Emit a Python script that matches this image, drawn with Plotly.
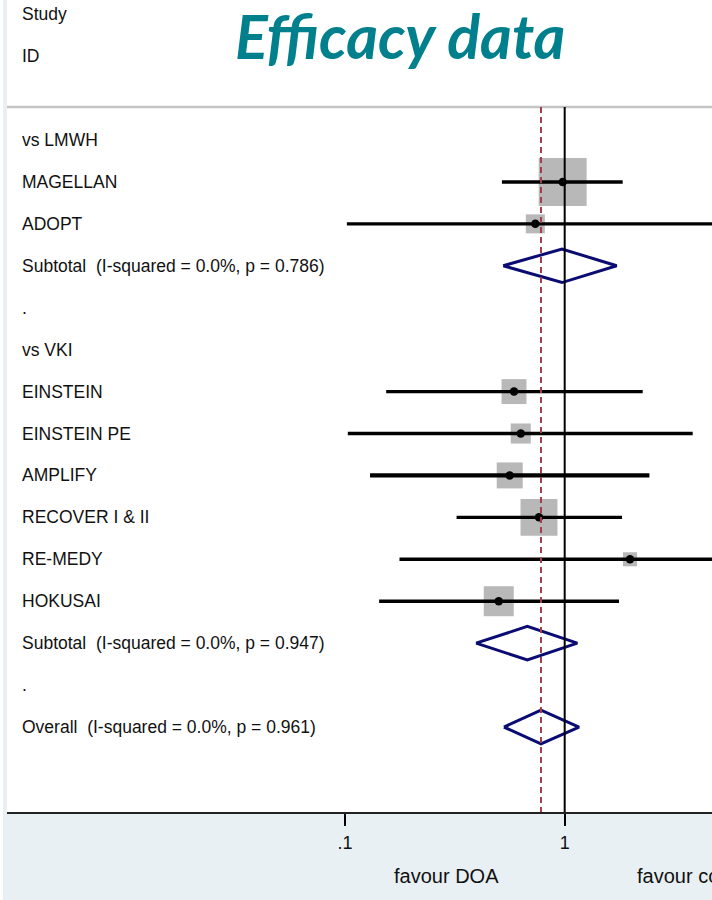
import plotly.graph_objects as go
import numpy as np

# ---------------- data ----------------
row_labels = [
    "vs LMWH", "MAGELLAN", "ADOPT",
    "Subtotal\u00a0 (I-squared = 0.0%, p = 0.786)", ".",
    "vs VKI", "EINSTEIN", "EINSTEIN PE", "AMPLIFY", "RECOVER I & II",
    "RE-MEDY", "HOKUSAI",
    "Subtotal\u00a0 (I-squared = 0.0%, p = 0.947)", ".",
    "Overall\u00a0 (I-squared = 0.0%, p = 0.961)",
]
header_labels = ["Study", "ID"]

study_names = ["MAGELLAN", "ADOPT", "EINSTEIN", "EINSTEIN PE", "AMPLIFY",
               "RECOVER I & II", "RE-MEDY", "HOKUSAI"]
study_rr = [0.979, 0.735, 0.588, 0.631, 0.562, 0.764, 1.983, 0.501]
study_lo = [0.518, 0.102, 0.154, 0.103, 0.130, 0.322, 0.177, 0.143]
study_hi = [1.836, 6.0, 2.265, 3.825, 2.430, 1.823, 9.0, 1.767]
study_weight = [33.7, 5.3, 9.1, 5.9, 9.9, 20.0, 2.9, 13.2]

pooled_names = ["Subtotal\u00a0 (I-squared = 0.0%, p = 0.786)",
                "Subtotal\u00a0 (I-squared = 0.0%, p = 0.947)",
                "Overall\u00a0 (I-squared = 0.0%, p = 0.961)"]
pooled_rr = [0.972, 0.676, 0.780]
pooled_lo = [0.525, 0.395, 0.529]
pooled_hi = [1.724, 1.141, 1.162]

tick_vals = [0.1, 1]
tick_text = [".1", "1"]
title_text = "Efficacy data"
left_caption = "favour DOA"
right_caption = "favour control"

# ---------------- styling ----------------
W, H = 712, 900
ML, MB = 7, 88
plot_w, plot_h = W - ML, H - MB
x0_log, x1_log = -2.5385, 0.6705
y_bottom, y_top = 16.027, -3.339
FONT = "Liberation Sans, Arial, sans-serif"
BG = "#e8f0f3"
NAVY = "#0b0b74"
line_widths = {"AMPLIFY": 4.2}


def rows_for(names):
    out, used = [], set()
    for n in names:
        for i, lab in enumerate(row_labels):
            if lab == n and i not in used:
                used.add(i)
                out.append(i)
                break
    return out


s_rows = rows_for(study_names)
p_rows = rows_for(pooled_names)

fig = go.Figure()

# weight boxes
box_sizes = [8.265 * np.sqrt(w) for w in study_weight]
fig.add_trace(go.Scatter(x=study_rr, y=s_rows, mode="markers",
                         marker=dict(symbol="square", size=box_sizes, color="#b8b8b8",
                                     opacity=1, line=dict(width=0)),
                         showlegend=False, hoverinfo="skip"))
# CI lines
for name, r, lo, hi in zip(study_names, s_rows, study_lo, study_hi):
    fig.add_trace(go.Scatter(x=[lo, hi], y=[r, r], mode="lines",
                             line=dict(color="black", width=line_widths.get(name, 3.4)),
                             hoverinfo="skip", showlegend=False))
# point estimates
fig.add_trace(go.Scatter(x=study_rr, y=s_rows, mode="markers",
                         marker=dict(symbol="circle", size=8.5, color="black"),
                         showlegend=False, hoverinfo="skip"))

# diamonds
for r, est, lo, hi in zip(p_rows, pooled_rr, pooled_lo, pooled_hi):
    fig.add_trace(go.Scatter(x=[lo, est, hi, est, lo], y=[r, r - 0.4, r, r + 0.4, r],
                             mode="lines", line=dict(color=NAVY, width=3),
                             hoverinfo="skip", showlegend=False))

sep_row = -0.787
shapes = [
    # header separator
    dict(type="line", xref="paper", x0=0, x1=1, yref="y", y0=sep_row, y1=sep_row,
         line=dict(color="#c4c4c4", width=2.5)),
    # null line
    dict(type="line", xref="x", x0=1, x1=1, yref="y", y0=sep_row, y1=y_bottom,
         line=dict(color="black", width=2)),
    # overall estimate dashed line
    dict(type="line", xref="x", x0=pooled_rr[2], x1=pooled_rr[2],
         yref="y", y0=sep_row, y1=y_bottom,
         line=dict(color="#a0404a", width=2, dash="6px,4px")),
    # white strip at left edge of image
    dict(type="rect", xref="paper", x0=-ML / plot_w, x1=-(ML - 3) / plot_w,
         yref="paper", y0=-MB / plot_h, y1=1, fillcolor="white", line=dict(width=0),
         layer="below"),
]

annotations = []
lab_x = (20 - ML) / plot_w
for i, lab in enumerate(row_labels):
    annotations.append(dict(x=lab_x, xref="paper", y=i, yref="y", text=lab,
                            showarrow=False, xanchor="left", yanchor="middle",
                            font=dict(family=FONT, size=17.5, color="#111111")))
for j, lab in enumerate(header_labels):
    annotations.append(dict(x=lab_x, xref="paper", y=-3 + j, yref="y", text=lab,
                            showarrow=False, xanchor="left", yanchor="middle",
                            font=dict(family=FONT, size=17.5, color="#111111")))
annotations.append(dict(x=(400 - ML) / plot_w, xref="paper", y=(plot_h - 35) / plot_h,
                        yref="paper", text="<b><i>" + title_text + "</i></b>",
                        showarrow=False, xanchor="center", yanchor="middle",
                        font=dict(family="Lato, sans-serif", size=61, color="#00808c")))
annotations.append(dict(x=(446.5 - ML) / plot_w, xref="paper", y=(plot_h - 876) / plot_h,
                        yref="paper", text=left_caption, showarrow=False,
                        xanchor="center", yanchor="middle",
                        font=dict(family=FONT, size=20, color="#111111")))
annotations.append(dict(x=(635 - ML) / plot_w, xref="paper", y=(plot_h - 876) / plot_h,
                        yref="paper", text=right_caption, showarrow=False,
                        xanchor="left", yanchor="middle",
                        font=dict(family=FONT, size=20, color="#111111")))

fig.update_layout(
    width=W, height=H,
    margin=dict(l=ML, r=0, t=0, b=MB, pad=0),
    paper_bgcolor=BG, plot_bgcolor="white",
    shapes=shapes, annotations=annotations,
    xaxis=dict(type="log", range=[x0_log, x1_log], tickvals=tick_vals, ticktext=tick_text,
               ticks="outside", ticklen=12, tickwidth=2, tickcolor="black",
               showline=True, linecolor="#222222", linewidth=2, showgrid=False,
               zeroline=False, tickfont=dict(family=FONT, size=18, color="#111111"),
               ticklabelstandoff=1, fixedrange=True),
    yaxis=dict(range=[y_bottom, y_top], showticklabels=False, showgrid=False,
               zeroline=False, showline=False, ticks="", fixedrange=True),
    showlegend=False,
)

fig.write_html("out.html", config={"displayModeBar": False},
               post_script="document.body.style.margin='0';"
                           "document.body.style.overflow='hidden';")
